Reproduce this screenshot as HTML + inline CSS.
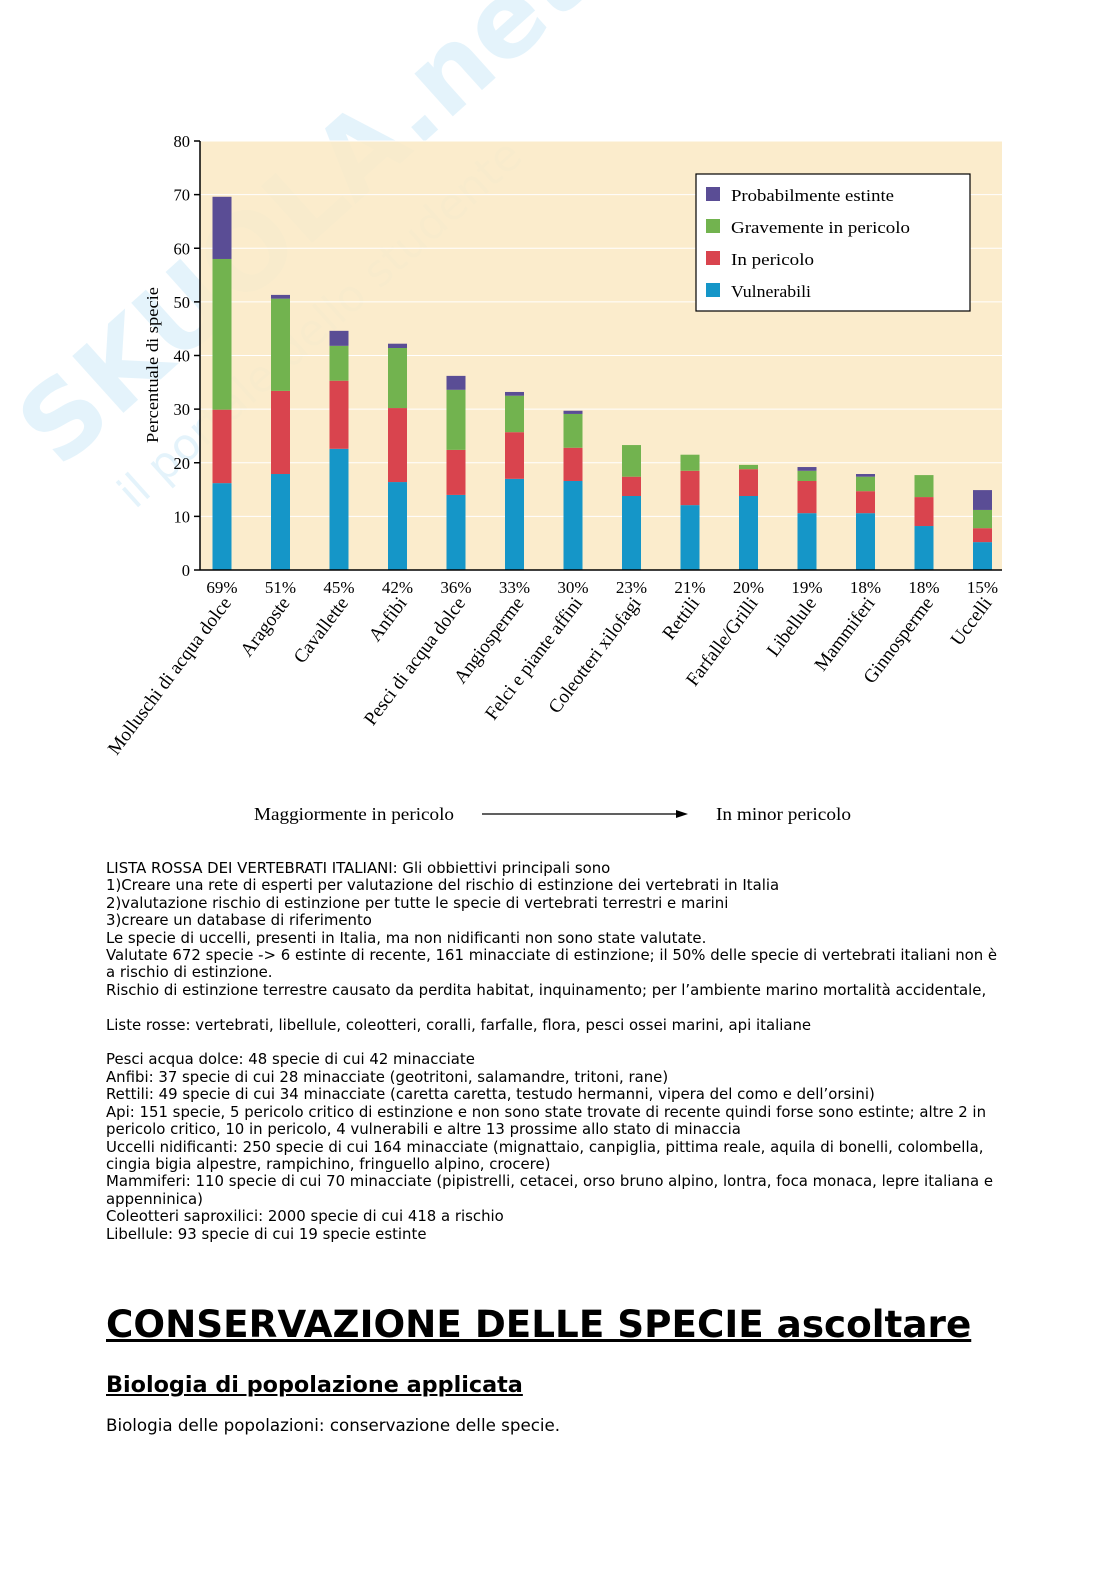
<!DOCTYPE html>
<html><head><meta charset="utf-8">
<style>
html,body{margin:0;padding:0;width:1116px;height:1579px;overflow:hidden;}
body{background:#fff;position:relative;font-family:"DejaVu Sans",sans-serif;}
#chart{position:absolute;left:0;top:0;}
.txt{position:absolute;left:106px;top:860px;font-size:14.9px;line-height:17.4px;color:#000;white-space:pre;}
h1{position:absolute;left:106px;top:1302px;margin:0;font-size:37.3px;font-weight:bold;text-decoration:underline;font-family:"DejaVu Sans",sans-serif;white-space:nowrap;}
h2{position:absolute;left:106px;top:1372px;margin:0;font-size:22.3px;font-weight:bold;text-decoration:underline;font-family:"DejaVu Sans",sans-serif;white-space:nowrap;}
.p{position:absolute;left:106px;top:1415px;font-size:16.7px;white-space:nowrap;}
</style></head><body>
<svg id="chart" width="1116" height="850" font-family="Liberation Serif, serif">
<g id="watermark" opacity="0.12">
<text x="0" y="0" transform="translate(60,470) rotate(-42)" font-family="DejaVu Sans, sans-serif" font-weight="bold" font-size="105" fill="#2aa3e0">SKUOLA.net</text>
<text x="0" y="0" transform="translate(135,510) rotate(-42)" font-family="DejaVu Sans, sans-serif" font-size="44" fill="#2aa3e0">il portale dello studente</text>
</g>
<rect x="200" y="141" width="802" height="429" fill="#fbe9c5" opacity="0.88"/>
<g id="grid"></g><g id="bars"></g><g id="axis"></g><g id="cats"></g>
<g>
<rect x="696" y="174" width="274" height="137" fill="#fff" stroke="#000" stroke-width="1.2"/>
<rect x="706" y="187" width="14" height="14" fill="#5a4d95"/><text x="731" y="201" font-size="17" textLength="163" lengthAdjust="spacingAndGlyphs">Probabilmente estinte</text>
<rect x="706" y="219" width="14" height="14" fill="#72b34f"/><text x="731" y="233" font-size="17" textLength="179" lengthAdjust="spacingAndGlyphs">Gravemente in pericolo</text>
<rect x="706" y="251" width="14" height="14" fill="#d9444e"/><text x="731" y="265" font-size="17" textLength="83" lengthAdjust="spacingAndGlyphs">In pericolo</text>
<rect x="706" y="283" width="14" height="14" fill="#1596c8"/><text x="731" y="297" font-size="17" textLength="80" lengthAdjust="spacingAndGlyphs">Vulnerabili</text>
</g>
<text transform="translate(158,365) rotate(-90)" text-anchor="middle" font-size="16.5" textLength="156" lengthAdjust="spacingAndGlyphs">Percentuale di specie</text>
<text x="254" y="820" font-size="17.5" textLength="200" lengthAdjust="spacingAndGlyphs">Maggiormente in pericolo</text>
<line x1="482" y1="814" x2="680" y2="814" stroke="#000" stroke-width="1.2"/>
<polygon points="688,814 676,810 676,818" fill="#000"/>
<text x="716" y="820" font-size="17.5" textLength="135" lengthAdjust="spacingAndGlyphs">In minor pericolo</text>
</svg>
<script>
const categories=["Molluschi di acqua dolce","Aragoste","Cavallette","Anfibi","Pesci di acqua dolce","Angiosperme","Felci e piante affini","Coleotteri xilofagi","Rettili","Farfalle/Grilli","Libellule","Mammiferi","Ginnosperme","Uccelli"];
const pctLabels=["69%","51%","45%","42%","36%","33%","30%","23%","21%","20%","19%","18%","18%","15%"];
const vulnerabili=[16.2,17.9,22.6,16.4,14.0,17.0,16.6,13.8,12.1,13.8,10.6,10.6,8.2,5.2];
const inPericolo=[13.7,15.5,12.7,13.8,8.4,8.7,6.2,3.6,6.4,5.0,6.0,4.1,5.4,2.6];
const gravemente=[28.1,17.2,6.5,11.2,11.2,6.8,6.3,5.9,3.0,0.8,1.9,2.7,4.1,3.4];
const estinte=[11.6,0.7,2.8,0.8,2.6,0.7,0.6,0,0,0,0.7,0.5,0,3.7];
const yTicks=[0,10,20,30,40,50,60,70,80];
const NS="http://www.w3.org/2000/svg";
const y=v=>570-v*5.3625;
const x=i=>222+i*58.5;
function mk(t,a,p){const e=document.createElementNS(NS,t);for(const k in a)e.setAttribute(k,a[k]);p.appendChild(e);return e;}
const grid=document.getElementById('grid'),bars=document.getElementById('bars'),axis=document.getElementById('axis'),cats=document.getElementById('cats');
yTicks.forEach(t=>{
 if(t>0){const g=mk('line',{x1:200,x2:1002,y1:y(t),y2:y(t),stroke:'#fff','stroke-width':1},grid);
 
 }
 mk('line',{x1:194,x2:200,y1:y(t),y2:y(t),stroke:'#000','stroke-width':1.5},axis);
 const l=mk('text',{x:190,y:y(t)+6,'text-anchor':'end','font-size':16.5},axis);l.textContent=t;
 
 
});
mk('line',{x1:200,x2:200,y1:141,y2:570,stroke:'#000','stroke-width':1.5},axis);
mk('line',{x1:200,x2:1002,y1:570,y2:570,stroke:'#000','stroke-width':1.5},axis);
const series=[[vulnerabili,'#1596c8','vulnerabili'],[inPericolo,'#d9444e','in-pericolo'],[gravemente,'#72b34f','gravemente'],[estinte,'#5a4d95','estinte']];
categories.forEach((c,i)=>{
 let base=0;
 series.forEach(([arr,col,nm])=>{
  const v=arr[i];if(v<=0)return;
  const r=mk('rect',{x:x(i)-9.5,width:19,y:y(base+v),height:v*5.3625,fill:col},bars);
  
  
  base+=v;
 });
 const p=mk('text',{x:x(i),y:593,'text-anchor':'middle','font-size':17},cats);p.textContent=pctLabels[i];
 
 
 const t=mk('text',{transform:`translate(${x(i)+10},603) rotate(-53)`,'text-anchor':'end','font-size':19},cats);t.textContent=c;
 
 
});
</script>
<div class="txt">LISTA ROSSA DEI VERTEBRATI ITALIANI: Gli obbiettivi principali sono
1)Creare una rete di esperti per valutazione del rischio di estinzione dei vertebrati in Italia
2)valutazione rischio di estinzione per tutte le specie di vertebrati terrestri e marini
3)creare un database di riferimento
Le specie di uccelli, presenti in Italia, ma non nidificanti non sono state valutate.
Valutate 672 specie -&gt; 6 estinte di recente, 161 minacciate di estinzione; il 50% delle specie di vertebrati italiani non è
a rischio di estinzione.
Rischio di estinzione terrestre causato da perdita habitat, inquinamento; per l’ambiente marino mortalità accidentale,

Liste rosse: vertebrati, libellule, coleotteri, coralli, farfalle, flora, pesci ossei marini, api italiane

Pesci acqua dolce: 48 specie di cui 42 minacciate
Anfibi: 37 specie di cui 28 minacciate (geotritoni, salamandre, tritoni, rane)
Rettili: 49 specie di cui 34 minacciate (caretta caretta, testudo hermanni, vipera del como e dell’orsini)
Api: 151 specie, 5 pericolo critico di estinzione e non sono state trovate di recente quindi forse sono estinte; altre 2 in
pericolo critico, 10 in pericolo, 4 vulnerabili e altre 13 prossime allo stato di minaccia
Uccelli nidificanti: 250 specie di cui 164 minacciate (mignattaio, canpiglia, pittima reale, aquila di bonelli, colombella,
cingia bigia alpestre, rampichino, fringuello alpino, crocere)
Mammiferi: 110 specie di cui 70 minacciate (pipistrelli, cetacei, orso bruno alpino, lontra, foca monaca, lepre italiana e
appenninica)
Coleotteri saproxilici: 2000 specie di cui 418 a rischio
Libellule: 93 specie di cui 19 specie estinte</div>
<h1>CONSERVAZIONE DELLE SPECIE ascoltare</h1>
<h2>Biologia di popolazione applicata</h2>
<div class="p">Biologia delle popolazioni: conservazione delle specie.</div>
</body></html>
